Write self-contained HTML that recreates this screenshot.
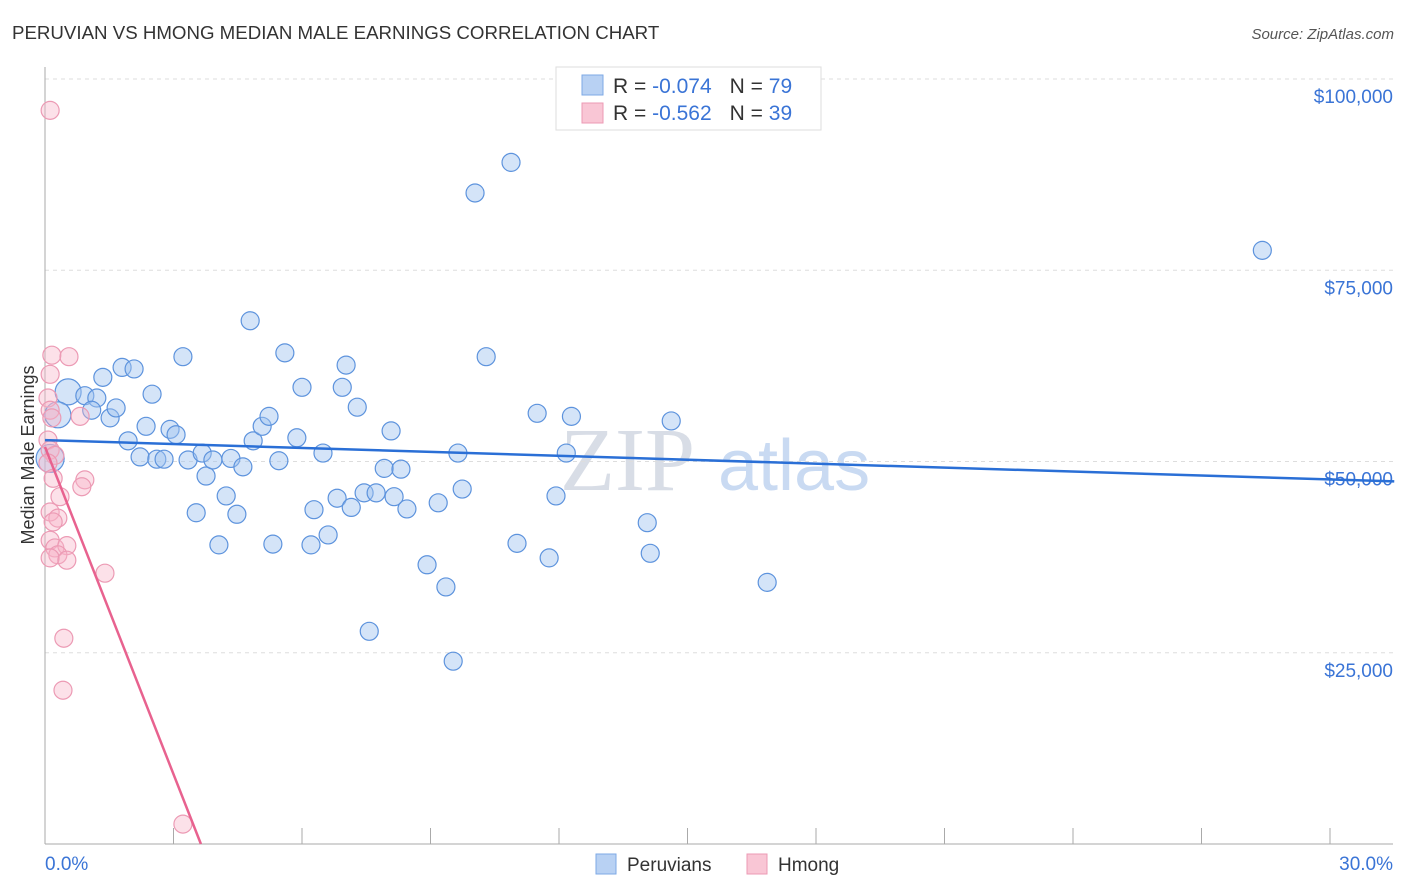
<!DOCTYPE html>
<html><head><meta charset="utf-8"><style>
body{margin:0;background:#fff;font-family:"Liberation Sans",sans-serif;}
svg{display:block}
</style></head><body>
<svg id="chart" width="1406" height="892" viewBox="0 0 1406 892">
<text x="12" y="39" font-size="18.7" fill="#333">PERUVIAN VS HMONG MEDIAN MALE EARNINGS CORRELATION CHART</text>
<text x="1394" y="39" font-size="15" fill="#555" font-style="italic" text-anchor="end">Source: ZipAtlas.com</text>
<text x="560" y="490" font-size="90" fill="#d8dde6" font-family="Liberation Serif,serif">ZIP</text>
<text x="718" y="490" font-size="72" fill="#c9daf2">atlas</text>
<g id="grid"></g>
<g id="axes"></g>
<g id="marks"></g>
<text transform="translate(34,455) rotate(-90)" font-size="18" fill="#333" text-anchor="middle">Median Male Earnings</text>
<g>
<rect x="556" y="67" width="265" height="63" fill="#fff" stroke="#ddd"/>
<rect x="582" y="75" width="21" height="20" fill="#b8d1f3" stroke="#7ea9e6"/>
<rect x="582" y="103" width="21" height="20" fill="#f9c6d5" stroke="#ec9ab4"/>
<text x="613" y="93" font-size="21" fill="#333">R = <tspan fill="#3a74d6">-0.074</tspan><tspan dx="18">N = </tspan><tspan fill="#3a74d6">79</tspan></text>
<text x="613" y="120" font-size="21" fill="#333">R = <tspan fill="#3a74d6">-0.562</tspan><tspan dx="18">N = </tspan><tspan fill="#3a74d6">39</tspan></text>
</g>
<g>
<rect x="596" y="854" width="20" height="20" fill="#b8d1f3" stroke="#7ea9e6"/>
<text x="627" y="871" font-size="19" fill="#333">Peruvians</text>
<rect x="747" y="854" width="20" height="20" fill="#f9c6d5" stroke="#ec9ab4"/>
<text x="778" y="871" font-size="19" fill="#333">Hmong</text>
</g>
</svg>
<script>
const blueX=[0.54,0.30,0.12,0.93,1.21,1.09,1.35,1.52,1.66,1.80,2.08,1.94,2.22,2.36,2.50,2.61,2.78,2.92,3.06,3.22,3.34,3.53,3.67,3.76,3.92,4.06,4.23,4.34,4.48,4.62,4.79,4.86,5.07,5.23,5.32,5.46,5.60,5.88,6.00,6.21,6.28,6.49,6.61,6.82,6.94,7.03,7.15,7.29,7.45,7.57,7.73,7.92,8.08,8.15,8.31,8.45,8.92,9.18,9.36,9.53,9.64,9.74,10.04,10.30,10.88,11.02,11.49,11.77,11.93,12.17,12.29,14.06,14.13,14.62,16.86,28.42];
const blueY=[59.1,56.1,50.4,58.6,58.3,56.7,61.0,55.7,57.0,62.3,62.1,52.7,50.6,54.6,58.8,50.3,50.3,54.2,53.5,63.7,50.2,43.3,51.1,48.1,50.2,39.1,45.5,50.4,43.1,49.3,68.4,52.7,54.6,55.9,39.2,50.1,64.2,53.1,59.7,39.1,43.7,51.1,40.4,45.2,59.7,62.6,44.0,57.1,45.9,27.8,45.9,49.1,54.0,45.4,49.0,43.8,36.5,44.6,33.6,23.9,51.1,46.4,85.1,63.7,89.1,39.3,56.3,37.4,45.5,51.1,55.9,42.0,38.0,55.3,34.2,77.6];
const blueSize=[13,13,14];
const pinkX=[0.12,0.16,0.56,0.12,0.07,0.12,0.16,0.82,0.07,0.12,0.23,0.07,0.19,0.93,0.86,0.35,0.12,0.30,0.19,0.12,0.23,0.51,0.30,0.12,0.51,1.40,0.44,0.42,3.22];
const pinkY=[95.9,63.9,63.7,61.4,58.3,56.7,55.7,55.9,52.8,51.5,50.8,49.8,47.8,47.6,46.7,45.4,43.4,42.6,42.1,39.7,38.7,39.0,37.8,37.4,37.1,35.4,26.9,20.1,2.6];
const blueTrendX=[0,31.5], blueTrendY=[52.8,47.4];
const pinkTrendX=[0,3.64], pinkTrendY=[51.9,0];
const yTicks=[25,50,75,100];
const yTickLabels=["$25,000","$50,000","$75,000","$100,000"];
const xTicks=[0,3,6,9,12,15,18,21,24,27,30];

const X0=45,XR=1330,Y0=844,YT=79;
const sx=v=>X0+(v/30)*(XR-X0);
const sy=v=>Y0-(v/100)*(Y0-YT);
const NS="http://www.w3.org/2000/svg";
function mk(tag,attrs,parent){const e=document.createElementNS(NS,tag);for(const k in attrs)e.setAttribute(k,attrs[k]);parent.appendChild(e);return e;}
const grid=document.getElementById('grid'),axes=document.getElementById('axes'),marks=document.getElementById('marks');
yTicks.forEach((t,i)=>{
 const g=mk('line',{x1:X0,x2:1393,y1:sy(t),y2:sy(t),stroke:'#ddd','stroke-dasharray':'4,4'},grid);
 
 
 const l=mk('text',{x:1393,y:sy(t)+24,'font-size':19,fill:'#3a74d6','text-anchor':'end'},axes);
 l.textContent=yTickLabels[i];
 
 
});
const ax=mk('line',{x1:X0,x2:X0,y1:67,y2:Y0,stroke:'#aaa'},axes);


const bx=mk('line',{x1:X0,x2:1393,y1:Y0,y2:Y0,stroke:'#aaa'},axes);


xTicks.forEach(t=>{
 const tk=mk('line',{x1:sx(t),x2:sx(t),y1:Y0,y2:Y0-16,stroke:'#aaa'},axes);
 
 
});
[[0,'start','0.0%'],[30,'end','30.0%']].forEach(([v,a,s])=>{
 const l=mk('text',{x:v===0?sx(v):1393,y:870,'font-size':19,fill:'#3a74d6','text-anchor':a},axes);
 l.textContent=s;
 
 
});
blueX.forEach((x,i)=>{
 const c=mk('circle',{cx:sx(x),cy:sy(blueY[i]),r:blueSize[i]||9,fill:'rgba(160,196,240,0.45)',stroke:'#5d93dd','stroke-width':1.2},marks);
 
 
});
pinkX.forEach((x,i)=>{
 const c=mk('circle',{cx:sx(x),cy:sy(pinkY[i]),r:9,fill:'rgba(247,180,200,0.4)',stroke:'#ec9ab4','stroke-width':1.2},marks);
 
 
});
const bt=mk('line',{x1:sx(blueTrendX[0]),y1:sy(blueTrendY[0]),x2:sx(blueTrendX[1]),y2:sy(blueTrendY[1]),stroke:'#2a6fd6','stroke-width':2.5},marks);


const pt=mk('line',{x1:sx(pinkTrendX[0]),y1:sy(pinkTrendY[0]),x2:sx(pinkTrendX[1]),y2:sy(pinkTrendY[1]),stroke:'#e8628f','stroke-width':2.5},marks);


</script>
</body></html>
